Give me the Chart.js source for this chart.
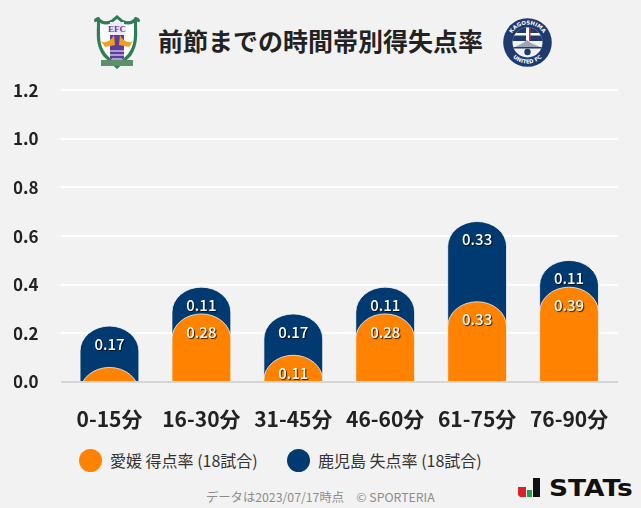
<!DOCTYPE html>
<html lang="ja">
<head>
<meta charset="utf-8">
<title>前節までの時間帯別得失点率</title>
<script src="https://cdn.jsdelivr.net/npm/chart.js@4"></script>
<style>
  html, body { margin: 0; padding: 0; background: #f2f2f2; }
  body { width: 641px; height: 508px; position: relative; overflow: hidden; font-family: "Noto Sans CJK JP", sans-serif; color: #222; }
  .abs { position: absolute; white-space: nowrap; }
  #chartWrap { position: absolute; left: 0; top: 55px; width: 641px; height: 385px; }
  #title { left: 158px; top: 21px; font-size: 25px; line-height: 38px; font-weight: 700; color: #222; }
  .legend-dot { position: absolute; top: 449px; width: 23px; height: 23px; border-radius: 50%; }
  .legend-text { top: 449px; font-size: 16px; line-height: 23px; color: #333; }
  #note { left: 206px; top: 489px; font-size: 12.3px; line-height: 17px; color: #8c8c8c; }
  #statsText { left: 549px; top: 472px; font-family: "DejaVu Sans", sans-serif; font-size: 23px; line-height: 32px; font-weight: 700; color: #111; transform: scaleX(1.15); transform-origin: left center; }
</style>
</head>
<body>
<svg class="abs" style="left:93px;top:14px" width="48" height="56" viewBox="0 0 48 56">
  <path d="M24 1 L30 6 C35 8 39 8 42 3 C44 3 47 4 47 7 C46 9 44 8 44 7 C44 20 46 30 38 42 L24 55 L10 42 C2 30 4 20 4 7 C4 8 2 9 1 7 C1 4 4 3 6 3 C9 8 13 8 18 6 Z" fill="#2f7d55"/>
  <path d="M24 5 L29 9 C33 11 37 11 41 9 C41 22 42 31 35 40 L24 51 L13 40 C6 31 7 22 7 9 C11 11 15 11 19 9 Z" fill="#fff"/>
  <path d="M17 8 H31 V44 L24 50 L17 44 Z" fill="#5a3d9e"/>
  <rect x="17" y="8" width="14" height="13" fill="#efeaf5"/>
  <text x="24" y="18" text-anchor="middle" font-family="Liberation Serif" font-size="9" font-weight="700" fill="#5a3d9e">EFC</text>
  <path d="M8 27 C12 30 18 27 21 21 L22 31 L12 33 Z M40 27 C36 30 30 27 27 21 L26 31 L36 33 Z" fill="#f0a020"/>
  <path d="M17 37 H31 M17 41 H31 M19 45 H29" stroke="#fff" stroke-width="1"/>
  <rect x="8" y="46" width="32" height="6" fill="#5d8f68"/>
</svg>
<div id="title" class="abs">前節までの時間帯別得失点率</div>
<svg class="abs" style="left:503px;top:18px" width="49" height="49" viewBox="0 0 49 49">
  <defs>
    <path id="arcTop" d="M6.5 24.5 A18 18 0 0 1 42.5 24.5"/>
    <path id="arcBottom" d="M3.5 24.5 A21 21 0 0 0 45.5 24.5"/>
    <clipPath id="innerDisc"><circle cx="24.5" cy="24.5" r="15"/></clipPath>
  </defs>
  <circle cx="24.5" cy="24.5" r="24.3" fill="#1f3a6e"/>
  <text font-family="DejaVu Sans" font-size="5.4" font-weight="700" fill="#fff" text-anchor="middle"><textPath href="#arcTop" startOffset="50%">KAGOSHIMA</textPath></text>
  <text font-family="DejaVu Sans" font-size="5.4" font-weight="700" fill="#fff" text-anchor="middle"><textPath href="#arcBottom" startOffset="50%">UNITED FC</textPath></text>
  <circle cx="24.5" cy="24.5" r="15" fill="#f2f2f2"/>
  <g clip-path="url(#innerDisc)">
    <rect x="9" y="9" width="31" height="14" fill="#1f3a6e"/>
    <rect x="9" y="15" width="31" height="2.5" fill="#fff"/>
    <rect x="23" y="9" width="3" height="14" fill="#fff"/>
    <rect x="26" y="9" width="1.5" height="14" fill="#d8232a"/>
    <path d="M12 29 L20 25 L24 22 L28 25 L37 29 Z" fill="#9aa5b8"/>
    <rect x="9" y="29" width="31" height="1.5" fill="#1f3a6e"/>
  </g>
  <circle cx="24.5" cy="34" r="3.2" fill="#1f3a6e"/>
</svg>
<div id="chartWrap"><canvas id="rateChart"></canvas></div>
<div id="legendBox"></div>
<div id="note" class="abs">データは2023/07/17時点　© SPORTERIA</div>
<svg class="abs" style="left:517px;top:477px" width="24" height="21" viewBox="0 0 24 21">
  <path d="M1 10 H9 V20 H3 L1 18 Z" fill="#d8232a"/>
  <rect x="10" y="13" width="5" height="7" fill="#1fa34a"/>
  <rect x="16" y="1" width="7" height="19" fill="#111"/>
</svg>
<div id="statsText" class="abs">STATs</div>

<script>
const categories = ['0-15分', '16-30分', '31-45分', '46-60分', '61-75分', '76-90分'];
const tickLabels = ['0.0', '0.2', '0.4', '0.6', '0.8', '1.0', '1.2'];
const ehimeName = '愛媛 得点率 (18試合)';
const kagoshimaName = '鹿児島 失点率 (18試合)';
const ehimeScored = [0.06, 0.28, 0.11, 0.28, 0.33, 0.39];
const kagoshimaConceded = [0.17, 0.11, 0.17, 0.11, 0.33, 0.11];

const ORANGE = '#ff8200';
const NAVY = '#003a70';

// 凡例
const legendBox = document.getElementById('legendBox');
[[ehimeName, ORANGE, 79, 110], [kagoshimaName, NAVY, 287, 318]].forEach(item => {
    const dot = document.createElement('div');
    dot.className = 'legend-dot';
    dot.style.left = item[2] + 'px';
    dot.style.background = item[1];
    legendBox.appendChild(dot);
    const text = document.createElement('div');
    text.className = 'abs legend-text';
    text.style.left = item[3] + 'px';
    text.textContent = item[0];
    legendBox.appendChild(text);
});

// 横線はチャート領域より少し長く引く
const wideGrid = {
    id: 'wideGrid',
    beforeDatasetsDraw(chart) {
        const ctx = chart.ctx;
        const area = chart.chartArea;
        const y = chart.scales.y;
        ctx.save();
        y.ticks.forEach(tick => {
            ctx.beginPath();
            ctx.lineWidth = 2;
            ctx.strokeStyle = tick.value === 0 ? '#d6d6d6' : '#fff';
            const py = Math.round(y.getPixelForValue(tick.value));
            ctx.moveTo(area.left - 2.5, py);
            ctx.lineTo(area.right + 3, py);
            ctx.stroke();
        });
        ctx.restore();
    }
};

// 上が楕円の棒（下端は軸で切る）
const roundedBars = {
    id: 'roundedBars',
    beforeDatasetDraw(chart, args) {
        const ctx = chart.ctx;
        const area = chart.chartArea;
        const ds = chart.data.datasets[args.index];
        ctx.save();
        ctx.beginPath();
        ctx.rect(area.left, area.top, area.right - area.left, chart.scales.y.getPixelForValue(0) - area.top - 1);
        ctx.clip();
        args.meta.data.forEach(bar => {
            const rx = bar.width / 2;
            const ry = 25;
            ctx.beginPath();
            ctx.moveTo(bar.x - rx, bar.base + 30);
            ctx.lineTo(bar.x - rx, bar.y + ry);
            ctx.ellipse(bar.x, bar.y + ry, rx, ry, 0, Math.PI, 2 * Math.PI);
            ctx.lineTo(bar.x + rx, bar.base + 30);
            ctx.closePath();
            ctx.fillStyle = ds.backgroundColor;
            ctx.fill();
            ctx.lineWidth = 1;
            ctx.strokeStyle = 'rgba(255,255,255,0.75)';
            ctx.stroke();
        });
        ctx.restore();
        return false;
    }
};

// 棒の中の数値
const barValues = {
    id: 'barValues',
    afterDatasetsDraw(chart) {
        const ctx = chart.ctx;
        ctx.save();
        ctx.font = '500 15px "Noto Sans CJK JP"';
        ctx.textAlign = 'center';
        ctx.textBaseline = 'middle';
        ctx.fillStyle = '#fff';
        ctx.shadowColor = 'rgba(0,0,0,0.8)';
        ctx.shadowOffsetX = 1;
        ctx.shadowOffsetY = 1;
        ctx.shadowBlur = 1;
        chart.data.datasets.forEach((ds, i) => {
            chart.getDatasetMeta(i).data.forEach((bar, j) => {
                const v = ds.labelValues[j];
                if (v < 0.1) return; // 小さい値は表示しない
                ctx.fillText(v.toFixed(2), bar.x, bar.y + 18);
            });
        });
        ctx.restore();
    }
};

new Chart(document.getElementById('rateChart'), {
    type: 'bar',
    data: {
        labels: categories,
        datasets: [{
            label: ehimeName,
            data: ehimeScored,
            labelValues: ehimeScored,
            backgroundColor: ORANGE,
            grouped: false,
            order: 1
        }, {
            label: kagoshimaName,
            // 紺の棒は合計の高さまで伸ばしてオレンジの後ろに置く
            data: kagoshimaConceded.map((v, i) => v + ehimeScored[i]),
            labelValues: kagoshimaConceded,
            backgroundColor: NAVY,
            grouped: false,
            order: 2
        }]
    },
    options: {
        responsive: true,
        maintainAspectRatio: false,
        animation: false,
        layout: { padding: { left: 14, right: 26, top: 5, bottom: 0 } },
        datasets: { bar: { categoryPercentage: 1, barPercentage: 0.64 } },
        scales: {
            x: {
                grid: { display: false, drawTicks: false },
                border: { display: false },
                afterFit: scale => { scale.height = 58; },
                ticks: { color: '#222', padding: 24, font: { family: '"Noto Sans CJK JP"', size: 21, weight: '700' }, maxRotation: 0 }
            },
            y: {
                min: 0,
                max: 1.2,
                grid: { display: false, drawTicks: false },
                border: { display: false },
                afterFit: scale => { scale.width = 49.5; },
                ticks: {
                    stepSize: 0.2,
                    padding: 25,
                    color: '#222',
                    font: { family: '"Noto Sans CJK JP"', size: 17, weight: '700' },
                    callback: (value, index) => tickLabels[index]
                }
            }
        },
        plugins: {
            legend: { display: false },
            tooltip: { enabled: false }
        }
    },
    plugins: [wideGrid, roundedBars, barValues]
});
</script>
</body>
</html>
